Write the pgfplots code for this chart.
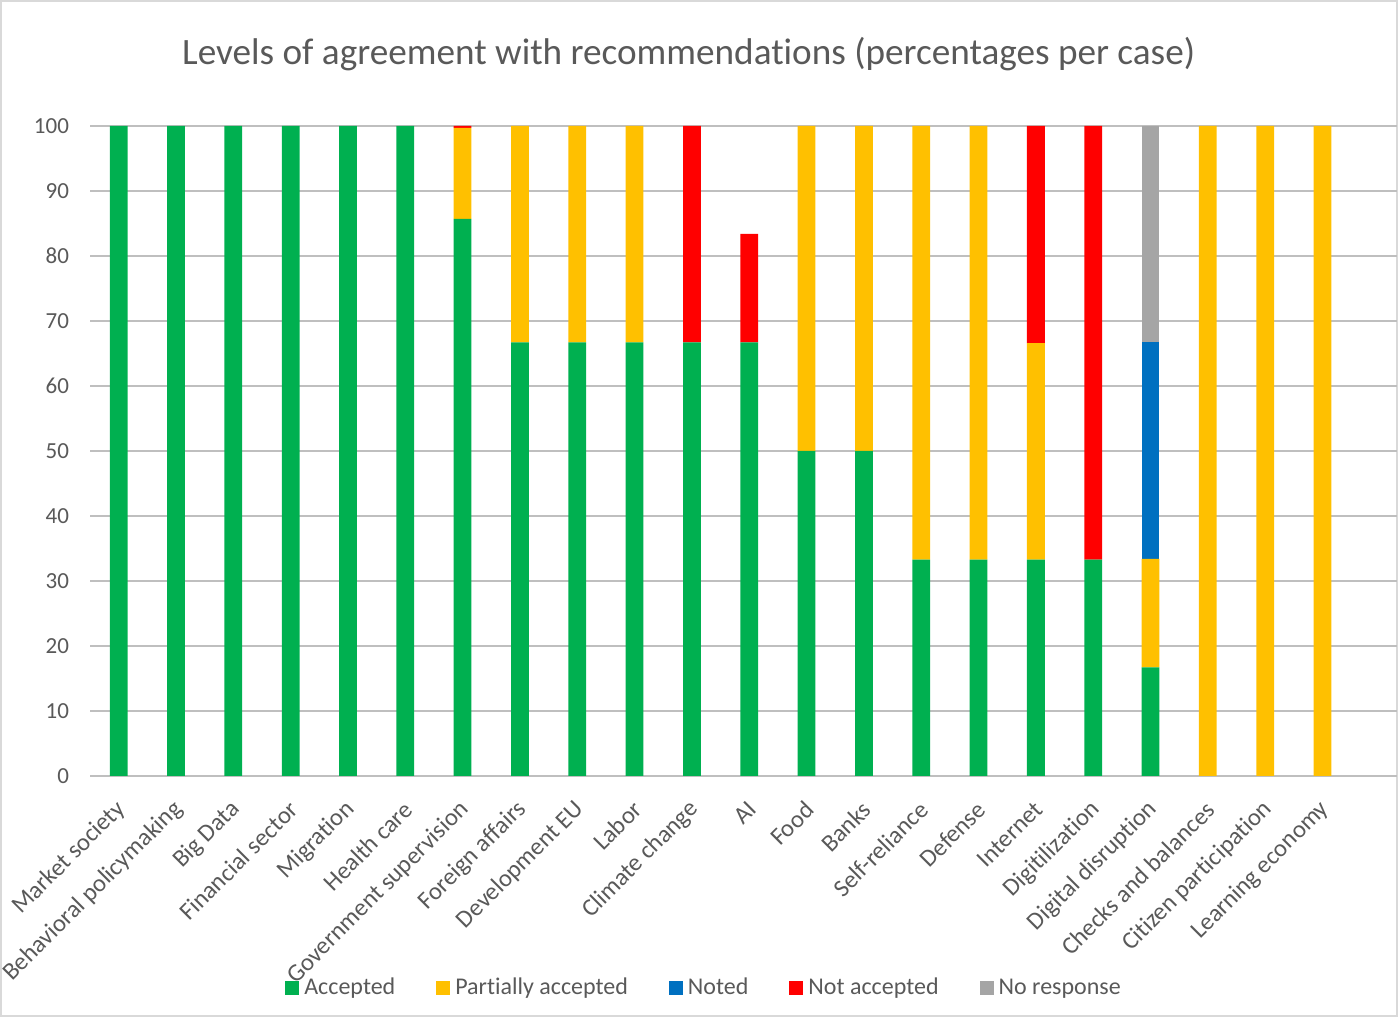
\documentclass[border=0pt]{standalone}
\usepackage{pgfplots}
\pgfplotsset{compat=1.18}
\usepackage{fontspec}
\setmainfont{Carlito}[Ligatures=CommonOff]
\definecolor{acc}{HTML}{00B050}
\definecolor{part}{HTML}{FFC000}
\definecolor{noted}{HTML}{0070C0}
\definecolor{notacc}{HTML}{FF0000}
\definecolor{nores}{HTML}{A5A5A5}
\definecolor{txt}{HTML}{595959}
\definecolor{grid}{HTML}{D9D9D9}
\begin{document}
\begin{tikzpicture}
\useasboundingbox (0,0) rectangle (699pt,508.5pt);
\draw[grid, line width=0.8pt] (0.5pt,0.5pt) rectangle (698.5pt,508pt);
\begin{axis}[
  at={(45pt,120.5pt)}, anchor=south west,
  scale only axis, width=653.5pt, height=325pt,
  ybar stacked, bar width=0.31,
  xmin=-0.5, xmax=22.3, ymin=0, ymax=100,
  ytick={0,10,...,100},
  xtick={0,...,21},
  xticklabels={Market society,Behavioral policymaking,Big Data,Financial sector,Migration,Health care,Government supervision,Foreign affairs,Development EU,Labor,Climate change,AI,Food,Banks,Self-reliance,Defense,Internet,Digitilization,Digital disruption,Checks and balances,Citizen participation,Learning economy},
  axis line style={draw=none},
  major tick length=0pt,
  tick style={draw=none},
  xmajorgrids=false,
  ymajorgrids=true, grid style={grid, line width=1pt},
  /pgf/number format/assume math mode=true,
  tick label style={text=txt},
  yticklabel style={xshift=-7pt, font=\fontsize{11.5}{13}\selectfont},
  xticklabel style={rotate=45, anchor=east, xshift=-6pt, yshift=-11.5pt, font=\fontsize{12.3}{14}\selectfont},
  title={Levels of agreement with recommendations (percentages per case)},
  title style={at={(0.458,1.092)}, anchor=center, font=\fontsize{18.6}{21}\selectfont, text=txt},
  legend columns=5,
  legend style={at={(0.4706,-0.326)}, anchor=center, draw=none, fill=none,
    font=\fontsize{12}{14}\selectfont, text=txt,
    /tikz/every even column/.append style={column sep=18.5pt},
    /tikz/every odd column/.append style={column sep=0.5pt}},
  legend image code/.code={\fill[#1,draw=none] (0pt,-3.5pt) rectangle (7pt,3.5pt);},
]
\addplot[fill=acc, draw=none] coordinates {(0,100) (1,100) (2,100) (3,100) (4,100) (5,100) (6,85.7) (7,66.7) (8,66.7) (9,66.7) (10,66.7) (11,66.7) (12,50) (13,50) (14,33.3) (15,33.3) (16,33.3) (17,33.3) (18,16.7) (19,0) (20,0) (21,0)};
\addplot[fill=part, draw=none] coordinates {(0,0) (1,0) (2,0) (3,0) (4,0) (5,0) (6,14.0) (7,33.3) (8,33.3) (9,33.3) (10,0) (11,0) (12,50) (13,50) (14,66.7) (15,66.7) (16,33.3) (17,0) (18,16.7) (19,100) (20,100) (21,100)};
\addplot[fill=noted, draw=none] coordinates {(0,0) (1,0) (2,0) (3,0) (4,0) (5,0) (6,0) (7,0) (8,0) (9,0) (10,0) (11,0) (12,0) (13,0) (14,0) (15,0) (16,0) (17,0) (18,33.3) (19,0) (20,0) (21,0)};
\addplot[fill=notacc, draw=none] coordinates {(0,0) (1,0) (2,0) (3,0) (4,0) (5,0) (6,0.3) (7,0) (8,0) (9,0) (10,33.3) (11,16.7) (12,0) (13,0) (14,0) (15,0) (16,33.4) (17,66.7) (18,0) (19,0) (20,0) (21,0)};
\addplot[fill=nores, draw=none] coordinates {(0,0) (1,0) (2,0) (3,0) (4,0) (5,0) (6,0) (7,0) (8,0) (9,0) (10,0) (11,0) (12,0) (13,0) (14,0) (15,0) (16,0) (17,0) (18,33.3) (19,0) (20,0) (21,0)};
\legend{Accepted,Partially accepted,Noted,Not accepted,No response}
\end{axis}
\end{tikzpicture}
\end{document}
